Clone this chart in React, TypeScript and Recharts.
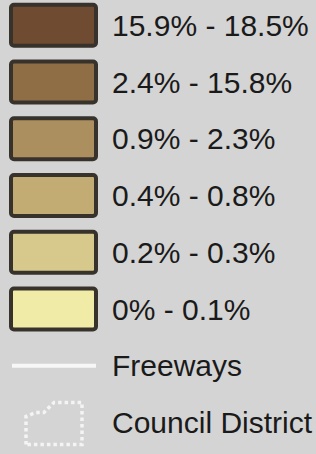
import React from 'react';
import { Bar, BarChart, XAxis, YAxis } from 'recharts';

if (typeof document !== 'undefined') document.body.style.margin = '0';

const labels = [
  '15.9% - 18.5%',
  '2.4% - 15.8%',
  '0.9% - 2.3%',
  '0.4% - 0.8%',
  '0.2% - 0.3%',
  '0% - 0.1%',
  'Freeways',
  'Council District',
];
const kinds = ['class', 'class', 'class', 'class', 'class', 'class', 'freeway', 'district'];
const fills = ['#6f4b31', '#8f6d45', '#ab8f5e', '#c3ab74', '#d6c98b', '#f0eca7', '', ''];

const rows = labels.map((label, i) => ({ label, kind: kinds[i], fill: fills[i] }));

const font = '"Liberation Sans", Arial, sans-serif';

const LegendRow = (props: any) => {
  const { y, height, payload } = props;
  const c = y + height / 2 - 3;
  let icon = null;
  if (payload.kind === 'class') {
    icon = (
      <rect x={11} y={c - 20.5} width={85} height={41} rx={3} fill={payload.fill} stroke="#38322c" strokeWidth={4} />
    );
  } else if (payload.kind === 'freeway') {
    icon = <line x1={12} x2={96} y1={c} y2={c} stroke="#f7f7f7" strokeWidth={4} />;
  } else {
    const pts = [
      [26, 22], [26, -6], [36, -10], [44, -10], [54, -20], [82, -20], [82, 22], [26, 22],
    ].map(([px, py]) => `${px},${c + py}`).join(' ');
    icon = <polyline points={pts} fill="none" stroke="#f4f4f4" strokeWidth={3.5} strokeDasharray="3.5 3" />;
  }
  return (
    <g>
      {icon}
      <text x={112} y={c} dy="0.36em" fontFamily={font} fontSize={30} fill="#1a1a1a">
        {payload.label}
      </text>
    </g>
  );
};

export default function App() {
  return (
    <div style={{ width: 316, height: 454, background: '#d4d4d4' }}>
      <BarChart
        width={316}
        height={454}
        data={rows}
        layout="vertical"
        margin={{ top: 0, right: 0, bottom: 0, left: 0 }}
      >
        <XAxis type="number" hide domain={[0, 1]} />
        <YAxis type="category" dataKey="label" hide />
        <Bar dataKey={() => 1} isAnimationActive={false} shape={<LegendRow />} />
      </BarChart>
    </div>
  );
}
